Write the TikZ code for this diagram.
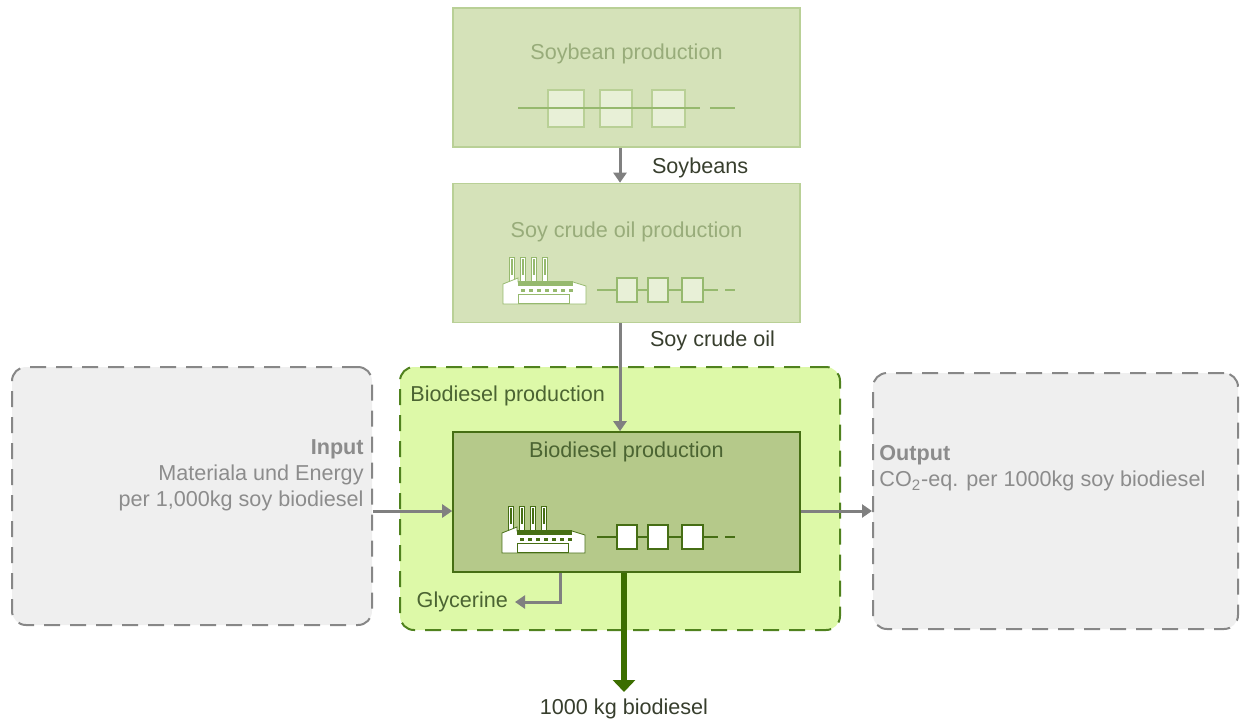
\documentclass[tikz,border=0pt]{standalone}
\usepackage{fontspec}
\setmainfont{Liberation Sans}
\usepackage{xcolor}
\usetikzlibrary{arrows,arrows.meta,shapes,positioning}
\definecolor{topfill}{RGB}{213,226,185}
\definecolor{topline}{RGB}{185,208,150}
\definecolor{toptext}{RGB}{152,172,122}
\definecolor{topchain}{RGB}{150,185,110}
\definecolor{chainfill}{RGB}{232,240,215}
\definecolor{biofill}{RGB}{221,249,168}
\definecolor{bioline}{RGB}{80,130,30}
\definecolor{innerfill}{RGB}{181,201,138}
\definecolor{innerline}{RGB}{70,110,20}
\definecolor{innertext}{RGB}{75,100,50}
\definecolor{productgreen}{RGB}{60,110,0}
\definecolor{greyarrow}{RGB}{128,128,128}
\definecolor{greyfill}{RGB}{239,239,239}
\definecolor{greyline}{RGB}{135,135,135}
\definecolor{greytext}{RGB}{140,140,140}
\definecolor{labeltext}{RGB}{55,62,45}
\tikzstyle{procbox} = [rectangle, draw=topline, fill=topfill, line width=0.8pt, minimum width=173.5pt, minimum height=69.5pt]
\tikzstyle{innerbox} = [rectangle, draw=innerline, fill=innerfill, line width=0.8pt, minimum width=173.5pt, minimum height=70pt]
\tikzstyle{dashbox} = [rectangle, rounded corners=7pt, dash pattern=on 8pt off 5pt, line width=1pt]
\tikzstyle{title} = [font=\fontsize{10.8}{13}\selectfont, inner sep=0pt]
\tikzstyle{flowlabel} = [font=\fontsize{10.8}{13}\selectfont, text=labeltext]
\tikzstyle{arrow} = [line width=1.5pt, draw=greyarrow, -{Triangle[length=5pt,width=6.5pt]}]
\tikzstyle{productarrow} = [line width=3pt, draw=productgreen, -{Triangle[length=6pt,width=11pt]}]
\tikzset{
  pics/factory/.style={code={
    \foreach \cx in {6,17,28,39} {
      \filldraw[fill=white, draw=#1, line width=0.4pt] (\cx,1) rectangle ++(5,26);
      \fill[#1] (\cx+1.5,3) rectangle ++(2,16);
    }
    \filldraw[fill=white, draw=#1, line width=0.4pt] (0,48) -- (0,28) -- (15,22) -- (15,26) -- (70,26) -- (83,30) -- (83,48) -- cycle;
    \fill[#1] (15,25) rectangle (70,30);
    \foreach \wx in {18,26,...,66}
      \fill[#1] (\wx,33) rectangle ++(4,3);
    \draw[#1, line width=0.5pt] (15,38) rectangle (66,47);
  }},
  pics/chain/.style 2 args={code={
    \draw[#1, line width=0.8pt] (0,0) -- (121,0) (128,0) -- (138,0);
    \foreach \sx/\sw in {20/20,51/20,85/21}
      \filldraw[draw=#1, fill=#2, line width=0.8pt] (\sx,-12) rectangle ++(\sw,24);
  }}
}

\begin{document}
\begin{tikzpicture}[x=0.5pt, y=-0.5pt]
  \useasboundingbox (0,0) rectangle (1240,718);

  % grey input / output boxes
  \node (input) [dashbox, draw=greyline, fill=greyfill, minimum width=180pt, minimum height=129pt] at (192,496) {};
  \node (output) [dashbox, draw=greyline, fill=greyfill, minimum width=182.5pt, minimum height=128pt] at (1055.5,501) {};
  \node (intext) [title, text=greytext, align=right, anchor=east] at (364,475)
    {\textbf{Input}\\Materiala und Energy\\per 1,000kg soy biodiesel};
  \node (outtext) [title, text=greytext, align=left, anchor=west] at (879,468.5)
    {\textbf{Output}\\CO\textsubscript{2}-eq. per 1000kg soy biodiesel};

  % upstream processes
  \node (soybean) [procbox] at (626.5,77.5) {};
  \path (soybean.north) ++(0,47) node (soybeantitle) [title, text=toptext] {Soybean production};
  \foreach \sx/\sw in {548/36,600/32,652/33}
    \filldraw[draw=topline, fill=chainfill, line width=0.8pt] (\sx,90) rectangle ++(\sw,37);
  \draw[topchain, line width=0.8pt] (518,108) -- (700,108) (710,108) -- (735,108);

  \node (crudeoil) [procbox] at (626.5,253) {};
  \path (crudeoil.north) ++(0,49) node (crudeoiltitle) [title, text=toptext] {Soy crude oil production};
  \pic at (503,256) {factory=topchain};
  \pic at (597,290) {chain={topchain}{chainfill}};

  % biodiesel system
  \node (biobox) [dashbox, draw=bioline, fill=biofill, minimum width=220pt, minimum height=131.5pt] at (620,498.5) {};
  \node (biolabel) [flowlabel, text=innertext, anchor=west, inner sep=0pt] at (410,396) {Biodiesel production};
  \node (biodiesel) [innerbox] at (626.5,502) {};
  \path (biodiesel.north) ++(0,21) node (biodieseltitle) [title, text=innertext] {Biodiesel production};
  \pic at (502,505) {factory=innerline};
  \pic at (597,537) {chain={innerline}{white}};

  % flows
  \coordinate (flowx) at (620,0);
  \coordinate (sidey) at (0,511);
  \coordinate (glyx) at (560,0);
  \node (soybeans) [flowlabel, anchor=west] at (645,168) {Soybeans};
  \node (soyoil) [flowlabel, anchor=west] at (643,341) {Soy crude oil};
  \node (glycerine) [flowlabel, text=innertext, anchor=east] at (515,602) {Glycerine};
  \node (product) [flowlabel, anchor=north] at (624,692) {1000 kg biodiesel};

  \draw [arrow] (soybean.south -| flowx) -- (crudeoil.north -| flowx);
  \draw [arrow] (crudeoil.south -| flowx) -- (biodiesel.north -| flowx);
  \draw [arrow] (input.east |- sidey) -- (biodiesel.west |- sidey);
  \draw [arrow] (biodiesel.east |- sidey) -- (output.west |- sidey);
  \draw [arrow] (biodiesel.south -| glyx) |- (glycerine.east);
  \draw [productarrow] (biodiesel.south -| product) -- (product.north);
\end{tikzpicture}
\end{document}
